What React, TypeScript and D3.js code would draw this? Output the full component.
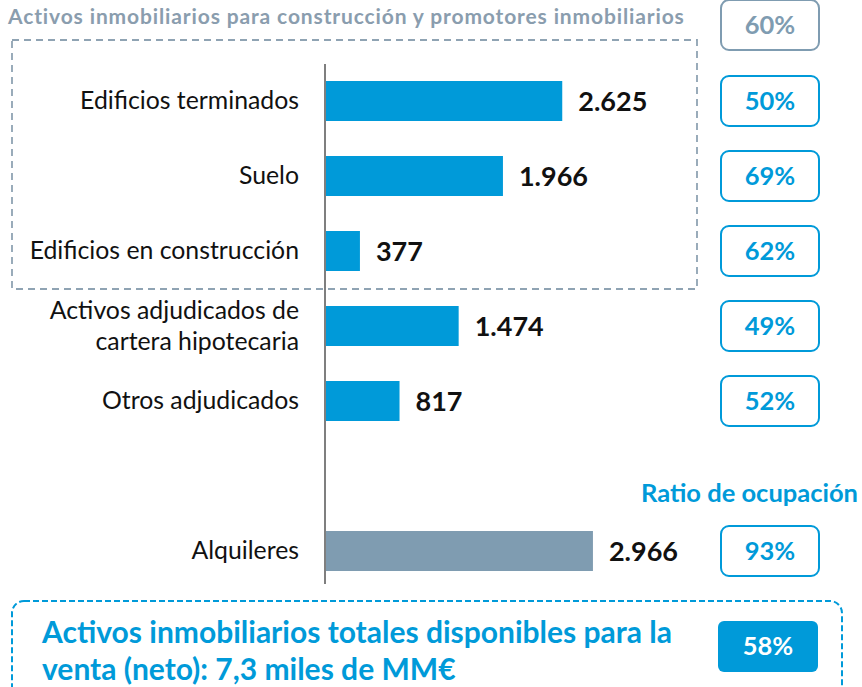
import React from 'react';
import * as d3 from 'd3';

// rows of the chart (slot 5 is left empty, Alquileres sits in slot 6)
const categories = [
  ['Edificios terminados'],
  ['Suelo'],
  ['Edificios en construcción'],
  ['Activos adjudicados de', 'cartera hipotecaria'],
  ['Otros adjudicados'],
  ['Alquileres'],
];
const slots = [0, 1, 2, 3, 4, 6];
const values = [2625, 1966, 377, 1474, 817, 2966];
const valueLabels = ['2.625', '1.966', '377', '1.474', '817', '2.966'];
const ratios = ['50%', '69%', '62%', '49%', '52%', '93%'];

const groupTitle = 'Activos inmobiliarios para construcción y promotores inmobiliarios';
const groupRatio = '60%';
const ratioTitle = 'Ratio de ocupación';
const totalText = ['Activos inmobiliarios totales disponibles para la', 'venta (neto): 7,3 miles de MM€'];
const totalRatio = '58%';

const BLUE = '#009ad9';
const GREY = '#7f9cb1';
const TITLE_GREY = '#8a9dae';
const FONT = 'Lato, "Open Sans", sans-serif';

const W = 862;
const H = 687;

export default function App() {
  const x = d3.scaleLinear().domain([0, 3000]).range([326, 596]);
  const y = d3
    .scaleBand<string>()
    .domain(d3.range(7).map(String))
    .range([63.5, 588.5])
    .paddingInner(0.4667)
    .paddingOuter(0.2333);
  const bw = y.bandwidth();
  const step = y.step();
  const center = (s: number) => (y(String(s)) as number) + bw / 2;

  const boxX = 721;
  const boxW = 98;
  const boxH = 50;

  return (
    <div style={{ position: 'absolute', left: 0, top: 0 }}>
      <svg width={W} height={H} style={{ display: 'block', fontFamily: FONT }}>
        {/* group title + dashed frame */}
        <text x={8} y={24} fill={TITLE_GREY} fontSize={21} fontWeight="bold" letterSpacing={0.87}>
          {groupTitle}
        </text>
        <rect x={12} y={40} width={685} height={249} fill="none" stroke="#8fa3b3" strokeWidth={1.8} strokeDasharray="7,5" />

        {/* axis */}
        <line x1={325} x2={325} y1={64} y2={584} stroke="#7f7f7f" strokeWidth={2} />

        {/* bars */}
        {values.map((v, i) => {
          const s = slots[i];
          const yc = center(s);
          const last = i === values.length - 1;
          return (
            <g key={i}>
              <rect x={x(0)} y={y(String(s))} width={x(v) - x(0)} height={bw} fill={last ? GREY : BLUE} />
              <text x={x(v) + 16} y={yc + 10} fontSize={27} fontWeight="bold" fill="#111">
                {valueLabels[i]}
              </text>
              <text x={299} textAnchor="end" fontSize={24.8} fill="#111">
                {categories[i].map((line, j) => (
                  <tspan key={j} x={299} y={yc + 8 + (j - (categories[i].length - 1) / 2) * 31}>
                    {line}
                  </tspan>
                ))}
              </text>
              <rect x={boxX} y={yc - boxH / 2} width={boxW} height={boxH} rx={8} fill="#fff" stroke={BLUE} strokeWidth={2} />
              <text x={boxX + boxW / 2} y={yc + 9} textAnchor="middle" fontSize={25.5} fontWeight="bold" fill={BLUE}>
                {ratios[i]}
              </text>
            </g>
          );
        })}

        {/* group ratio */}
        <rect x={boxX} y={center(0) - step - boxH / 2 - 1} width={boxW} height={boxH} rx={8} fill="#fff" stroke={GREY} strokeWidth={2} />
        <text x={boxX + boxW / 2} y={center(0) - step + 8} textAnchor="middle" fontSize={25.5} fontWeight="bold" fill={GREY}>
          {groupRatio}
        </text>

        {/* occupancy title */}
        <text x={858} y={center(5) + 26} textAnchor="end" fontSize={25.5} fontWeight="bold" fill={BLUE}>
          {ratioTitle}
        </text>

        {/* total */}
        <rect x={12} y={601} width={830} height={110} rx={12} fill="none" stroke={BLUE} strokeWidth={2} strokeDasharray="6,3" />
        {totalText.map((t, i) => (
          <text key={i} x={42} y={643 + i * 37} fontSize={30} fontWeight="bold" fill={BLUE}>
            {t}
          </text>
        ))}
        <rect x={718} y={621} width={100} height={51} rx={6} fill={BLUE} />
        <text x={768} y={655} textAnchor="middle" fontSize={25.5} fontWeight="bold" fill="#fff">
          {totalRatio}
        </text>
      </svg>
    </div>
  );
}
